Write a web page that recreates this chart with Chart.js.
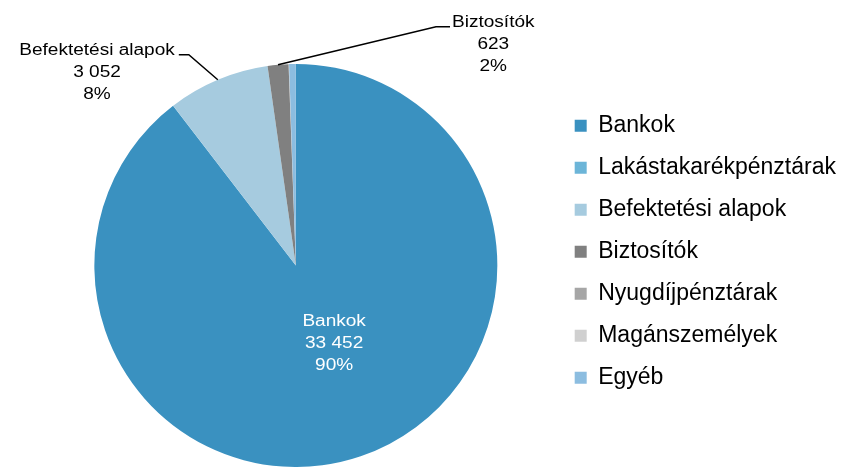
<!DOCTYPE html>
<html>
<head>
<meta charset="utf-8">
<title>Pie</title>
<script src="https://cdn.jsdelivr.net/npm/chart.js"></script>
<style>
    html, body { margin: 0; padding: 0; background: #fff; }
    #wrap { width: 864px; height: 467px; }
</style>
</head>
<body>
<div id="wrap"><canvas id="myChart"></canvas></div>
<script>
const labels = ['Bankok', 'Lakástakarékpénztárak', 'Befektetési alapok', 'Biztosítók', 'Nyugdíjpénztárak', 'Magánszemélyek', 'Egyéb'];
const values = [33452, 5, 3052, 623, 10, 5, 200];
const colors = ['#3a91c0', '#6cb5d8', '#a6cbdf', '#808080', '#a6a6a6', '#d0d0d0', '#8cbde0'];

const FONT = "'Liberation Sans', Arial, sans-serif";
const STRETCH = 1.19;

function fmt(v) {
    return String(v).replace(/\B(?=(\d{3})+(?!\d))/g, ' ');
}

function pct(v) {
    const total = values.reduce((a, b) => a + b, 0);
    return Math.round(v / total * 100) + '%';
}

// draws a text line a bit wider, like the original
function drawText(ctx, text, x, y) {
    ctx.save();
    ctx.translate(x, y);
    ctx.scale(STRETCH, 1);
    ctx.textAlign = 'center';
    ctx.textBaseline = 'middle';
    ctx.fillText(text, 0, 0);
    ctx.restore();
}

function textBlock(i) {
    return [labels[i], fmt(values[i]), pct(values[i])];
}

function edgePoint(arc) {
    const m = (arc.startAngle + arc.endAngle) / 2;
    return [arc.x + Math.cos(m) * arc.outerRadius, arc.y + Math.sin(m) * arc.outerRadius];
}

const sliceLabels = {
    id: 'sliceLabels',
    afterDatasetsDraw(chart) {
        const ctx = chart.ctx;
        const arcs = chart.getDatasetMeta(0).data;
        const lineH = 22;
        ctx.save();
        ctx.font = '16px ' + FONT;

        // Bankok, inside the slice
        const a0 = arcs[0];
        const r0 = a0.outerRadius;
        ctx.fillStyle = '#ffffff';
        textBlock(0).forEach((t, k) => {
            drawText(ctx, t, a0.x + r0 * 0.19, a0.y + r0 * 0.28 + k * lineH);
        });

        ctx.strokeStyle = '#000000';
        ctx.lineWidth = 1.5;
        ctx.fillStyle = '#000000';

        // Befektetési alapok, leader line to the upper left
        const [ax2, ay2] = edgePoint(arcs[2]);
        const ex2 = ax2 - 29, ey2 = ay2 - 25;
        ctx.beginPath();
        ctx.moveTo(ax2, ay2);
        ctx.lineTo(ex2, ey2);
        ctx.lineTo(ex2 - 10, ey2);
        ctx.stroke();
        const block2 = textBlock(2);
        const w2 = ctx.measureText(block2[0]).width * STRETCH;
        const cx2 = ex2 - 14 - w2 / 2;
        block2.forEach((t, k) => drawText(ctx, t, cx2, ey2 - 4 + k * lineH));

        // Biztosítók, leader line to the upper right
        const [ax3, ay3] = edgePoint(arcs[3]);
        const ex3 = ax3 + 158, ey3 = ay3 - 38;
        ctx.beginPath();
        ctx.moveTo(ax3, ay3);
        ctx.lineTo(ex3, ey3);
        ctx.lineTo(ex3 + 14, ey3);
        ctx.stroke();
        const block3 = textBlock(3);
        const w3 = ctx.measureText(block3[0]).width * STRETCH;
        const cx3 = ex3 + 16 + w3 / 2;
        block3.forEach((t, k) => drawText(ctx, t, cx3, ey3 - 4.5 + k * lineH));

        ctx.restore();
    }
};

new Chart(document.getElementById('myChart'), {
    type: 'pie',
    data: {
        labels: labels,
        datasets: [{
            data: values,
            backgroundColor: colors,
            borderWidth: 0
        }]
    },
    options: {
        responsive: true,
        maintainAspectRatio: false,
        animation: false,
        layout: {
            padding: { left: 36, top: 64, right: 18, bottom: 0 }
        },
        plugins: {
            tooltip: { enabled: false },
            legend: {
                position: 'right',
                align: 'start',
                title: {
                    display: true,
                    text: ' ',
                    font: { size: 1 },
                    padding: { top: 30, bottom: 0 }
                },
                labels: {
                    boxWidth: 12,
                    boxHeight: 12,
                    padding: 19,
                    color: '#000000',
                    font: { family: FONT, size: 23 }
                }
            }
        }
    },
    plugins: [sliceLabels]
});
</script>
</body>
</html>
